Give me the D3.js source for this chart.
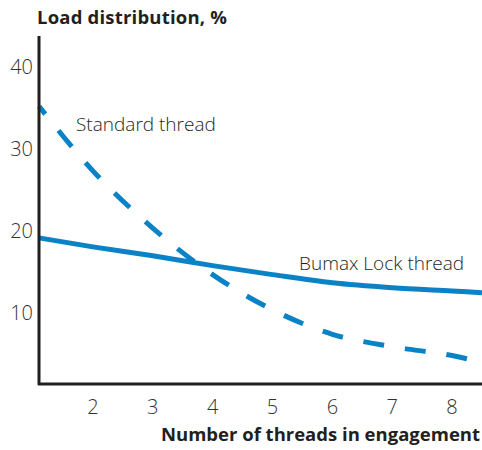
<!DOCTYPE html>
<html>
<head>
<meta charset="utf-8">
<script src="https://cdn.jsdelivr.net/npm/d3@7"></script>
<style>
  body { margin: 0; background: #fff; }
  text { font-family: "Open Sans", sans-serif; fill: #231f20; }
</style>
</head>
<body>
<svg id="chart" width="482" height="450"></svg>
<script>
// Values
const threads = [1.1, 2, 3, 4, 5, 6, 7, 8, 8.5];
const standardLoad = [35.2, 27.3, 20.3, 14.6, 10.3, 7.3, 5.8, 4.7, 3.9];
const bumaxLoad = [19.1, 18.0, 16.9, 15.7, 14.6, 13.6, 13.0, 12.6, 12.4];
const xTicks = [2, 3, 4, 5, 6, 7, 8];
const yTicks = [10, 20, 30, 40];

const svg = d3.select('#chart');
const blue = '#0a82c6';

// Scales tuned so the ticks land where the reference has them
const x = d3.scaleLinear().domain([1.1, 8.5]).range([39, 482]);
const y = d3.scaleLinear().domain([0, 40]).range([394, 67]);

// Title
svg.append('text')
  .attr('x', 37).attr('y', 24)
  .style('font-size', '18.5px').style('font-weight', 700)
  .style('letter-spacing', '0.2px')
  .text('Load distribution, %');

// Axis label
svg.append('text')
  .attr('x', 480).attr('y', 441)
  .attr('text-anchor', 'end')
  .style('font-size', '18.5px').style('font-weight', 700)
  .text('Number of threads in engagement');

// Tick labels
svg.selectAll('.ytick').data(yTicks).enter().append('text')
  .attr('class', 'ytick')
  .attr('x', 33).attr('y', d => y(d) + 2)
  .attr('text-anchor', 'end').attr('dominant-baseline', 'middle')
  .style('font-size', '20px').style('font-weight', 300).style('fill', '#333')
  .text(d => d);

svg.selectAll('.xtick').data(xTicks).enter().append('text')
  .attr('class', 'xtick')
  .attr('x', d => x(d)).attr('y', 409)
  .attr('text-anchor', 'middle').attr('dominant-baseline', 'middle')
  .style('font-size', '20px').style('font-weight', 300).style('fill', '#333')
  .text(d => d);

// Lines
const line = d3.line()
  .x((d, i) => x(threads[i]))
  .y(d => y(d))
  .curve(d3.curveMonotoneX);

svg.append('path')
  .datum(standardLoad)
  .attr('d', line)
  .attr('fill', 'none')
  .attr('stroke', blue)
  .attr('stroke-width', 5)
  .attr('stroke-dasharray', '21,21')
  .attr('stroke-dashoffset', 11);

svg.append('path')
  .datum(bumaxLoad)
  .attr('d', line)
  .attr('fill', 'none')
  .attr('stroke', blue)
  .attr('stroke-width', 5);

// Annotations
svg.append('text')
  .attr('x', 76).attr('y', 131)
  .style('font-size', '19px').style('font-weight', 300)
  .text('Standard thread');

svg.append('text')
  .attr('x', 299).attr('y', 270)
  .style('font-size', '19px').style('font-weight', 300)
  .text('Bumax Lock thread');

// Axes frame
svg.append('line')
  .attr('x1', 39).attr('x2', 39).attr('y1', 36).attr('y2', 385)
  .attr('stroke', '#231f20').attr('stroke-width', 3);
svg.append('line')
  .attr('x1', 38).attr('x2', 482).attr('y1', 384).attr('y2', 384)
  .attr('stroke', '#231f20').attr('stroke-width', 3);
</script>
</body>
</html>
